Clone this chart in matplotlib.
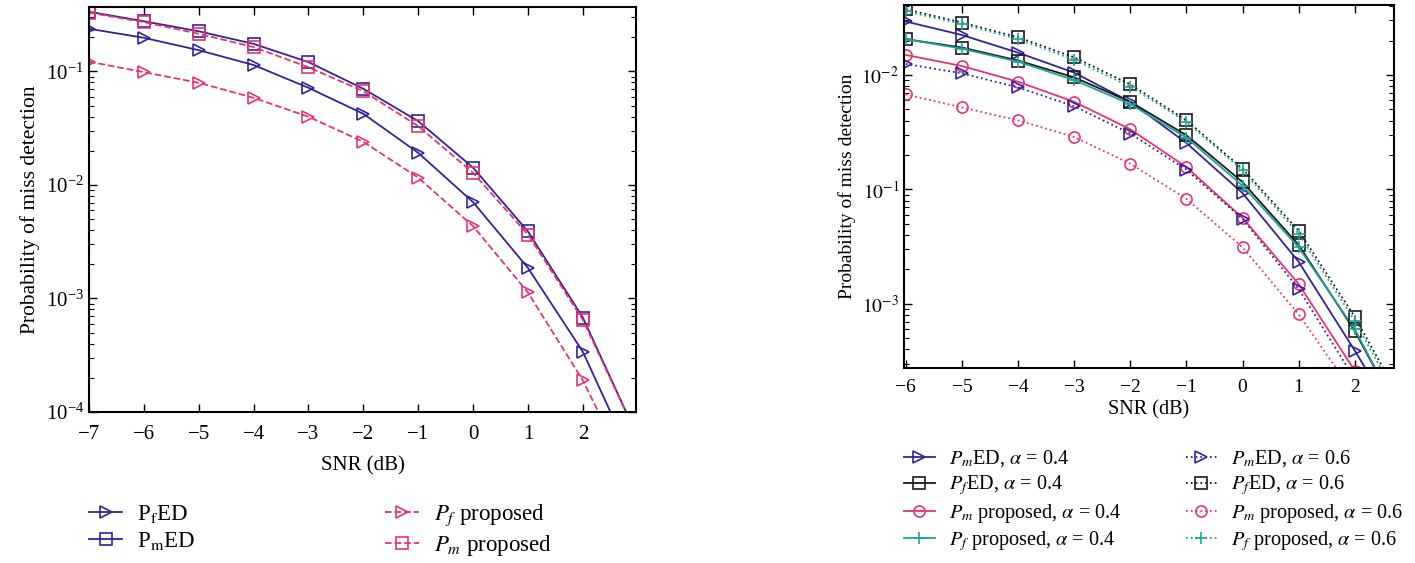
import numpy as np
import matplotlib
matplotlib.use('Agg')
from matplotlib import pyplot as plt

plt.rcParams['font.family'] = ['Liberation Serif', 'DejaVu Serif']
plt.rcParams['mathtext.fontset'] = 'stix'
plt.rcParams['font.size'] = 15

# left panel: SNR -7..3 dB
snr_left = [-7, -6, -5, -4, -3, -2, -1, 0, 1, 2, 3]
pf_ed = [0.238, 0.198, 0.154, 0.114, 0.0718, 0.0424, 0.0192, 0.00706, 0.00186, 3.4e-4, 3.0e-5]
pm_ed = [0.336, 0.277, 0.226, 0.175, 0.121, 0.0704, 0.0365, 0.0142, 0.0039, 6.8e-4, 6.0e-5]
pf_prop = [0.122, 0.0986, 0.0795, 0.0586, 0.0399, 0.024, 0.0116, 0.00434, 0.00113, 1.9e-4, 2.0e-5]
pm_prop = [0.33, 0.272, 0.215, 0.164, 0.109, 0.067, 0.033, 0.0128, 0.00366, 6.5e-4, 6.0e-5]

# right panel: SNR -6..3 dB
snr_right = [-6, -5, -4, -3, -2, -1, 0, 1, 2, 3]
pm_ed_04 = [0.294, 0.224, 0.157, 0.105, 0.0584, 0.0255, 0.0093, 0.00233, 3.9e-4, 6.0e-5]
pf_ed_04 = [0.206, 0.174, 0.134, 0.0955, 0.0584, 0.0298, 0.0116, 0.00327, 5.8e-4, 7.0e-5]
pm_prop_04 = [0.150, 0.120, 0.0874, 0.0584, 0.0336, 0.0157, 0.00565, 0.00149, 2.6e-4, 3.0e-5]
pf_prop_04 = [0.206, 0.170, 0.131, 0.0904, 0.0557, 0.0284, 0.0108, 0.00312, 6.0e-4, 7.0e-5]
pm_ed_06 = [0.125, 0.1035, 0.078, 0.0534, 0.0308, 0.0149, 0.00553, 0.00135, 2.2e-4, 2.5e-5]
pf_ed_06 = [0.376, 0.288, 0.214, 0.143, 0.0829, 0.0402, 0.0152, 0.00436, 7.7e-4, 1.0e-4]
pm_prop_06 = [0.0677, 0.0521, 0.0402, 0.0288, 0.0168, 0.00828, 0.00312, 8.1e-4, 1.6e-4, 2.0e-5]
pf_prop_06 = [0.36, 0.28, 0.206, 0.136, 0.079, 0.039, 0.0147, 0.00408, 7.1e-4, 9.0e-5]

# tick labels of the right panel as printed in the source figure
right_ticks = [1e-3, 1e-2, 1e-1]
right_ticklabels = ['$10^{-3}$', '$10^{-1}$', '$10^{-2}$']

blue = '#33229a'
pink = '#e8336f'
teal = '#1fa398'
black = '#1a1a1a'

fig = plt.figure(figsize=(14.15, 5.63), dpi=100)
ax1 = fig.add_axes([0.0629, 0.2682, 0.3866, 0.7194])
ax2 = fig.add_axes([0.6389, 0.3464, 0.3463, 0.6448])

mk = dict(markersize=8, markerfacecolor='none', markeredgewidth=1.2, linewidth=1.3)

ax1.semilogy(snr_left, pf_ed, color=blue, marker='>', linestyle='-', label=r'P$_\mathrm{f}$ED', **mk)
ax1.semilogy(snr_left, pm_ed, color=blue, marker='s', linestyle='-', label=r'P$_\mathrm{m}$ED', **mk)
ax1.semilogy(snr_left, pf_prop, color=pink, marker='>', linestyle='--', label=r'$P_f$ proposed', **mk)
ax1.semilogy(snr_left, pm_prop, color=pink, marker='s', linestyle='--', label=r'$P_m$ proposed', **mk)
ax1.set_xlim(-7, 2.97)
ax1.set_ylim(1e-4, 0.37)
ax1.set_xticks(range(-7, 3))
ax1.set_xlabel('SNR (dB)', labelpad=9)
ax1.set_ylabel('Probability of miss detection', fontsize=15.5)
ax1.tick_params(axis='x', which='major', pad=9)
ax1.legend(loc='upper left', bbox_to_anchor=(0.0629, 0.108), bbox_transform=fig.transFigure,
           ncol=2, frameon=False, fontsize=16.5, columnspacing=8.3, handlelength=1.45,
           handletextpad=0.65, labelspacing=0.25, borderaxespad=0, borderpad=0)

ax2.semilogy(snr_right, pm_ed_04, color=blue, marker='>', linestyle='-', label=r'$P_m$ED, $\alpha$ = 0.4', **mk)
ax2.semilogy(snr_right, pf_ed_04, color=black, marker='s', linestyle='-', label=r'$P_f$ED, $\alpha$ = 0.4', **mk)
ax2.semilogy(snr_right, pm_prop_04, color=pink, marker='o', linestyle='-', label=r'$P_m$ proposed, $\alpha$ = 0.4', **mk)
ax2.semilogy(snr_right, pf_prop_04, color=teal, marker='+', linestyle='-', label=r'$P_f$ proposed, $\alpha$ = 0.4', **mk)
ax2.semilogy(snr_right, pm_ed_06, color=blue, marker='>', linestyle=':', label=r'$P_m$ED, $\alpha$ = 0.6', **mk)
ax2.semilogy(snr_right, pf_ed_06, color=black, marker='s', linestyle=':', label=r'$P_f$ED, $\alpha$ = 0.6', **mk)
ax2.semilogy(snr_right, pm_prop_06, color=pink, marker='o', linestyle=':', label=r'$P_m$ proposed, $\alpha$ = 0.6', **mk)
ax2.semilogy(snr_right, pf_prop_06, color=teal, marker='+', linestyle=':', label=r'$P_f$ proposed, $\alpha$ = 0.6', **mk)
ax2.set_xlim(-6.03, 2.7)
ax2.set_ylim(2.75e-4, 0.41)
ax2.set_xticks(range(-6, 3))
ax2.set_yticks(right_ticks)
ax2.set_yticklabels(right_ticklabels)
ax2.set_xlabel('SNR (dB)', labelpad=3, fontsize=14.5)
ax2.set_ylabel('Probability of miss detection', fontsize=14)
ax2.tick_params(axis='both', which='major', labelsize=14)
ax2.tick_params(axis='x', which='major', pad=8)
ax2.legend(loc='upper left', bbox_to_anchor=(0.639, 0.204), bbox_transform=fig.transFigure,
           ncol=2, frameon=False, fontsize=14.6, columnspacing=3.2, handlelength=1.5,
           handletextpad=0.7, labelspacing=0.22, borderaxespad=0, borderpad=0)

for ax in (ax1, ax2):
    ax.tick_params(which='both', direction='in', top=True, right=True)
    ax.tick_params(which='major', length=6, width=1)
    ax.tick_params(which='minor', length=3.5, width=0.8)
    for s in ax.spines.values():
        s.set_linewidth(1.5)

fig.savefig('out.png', dpi=100)
